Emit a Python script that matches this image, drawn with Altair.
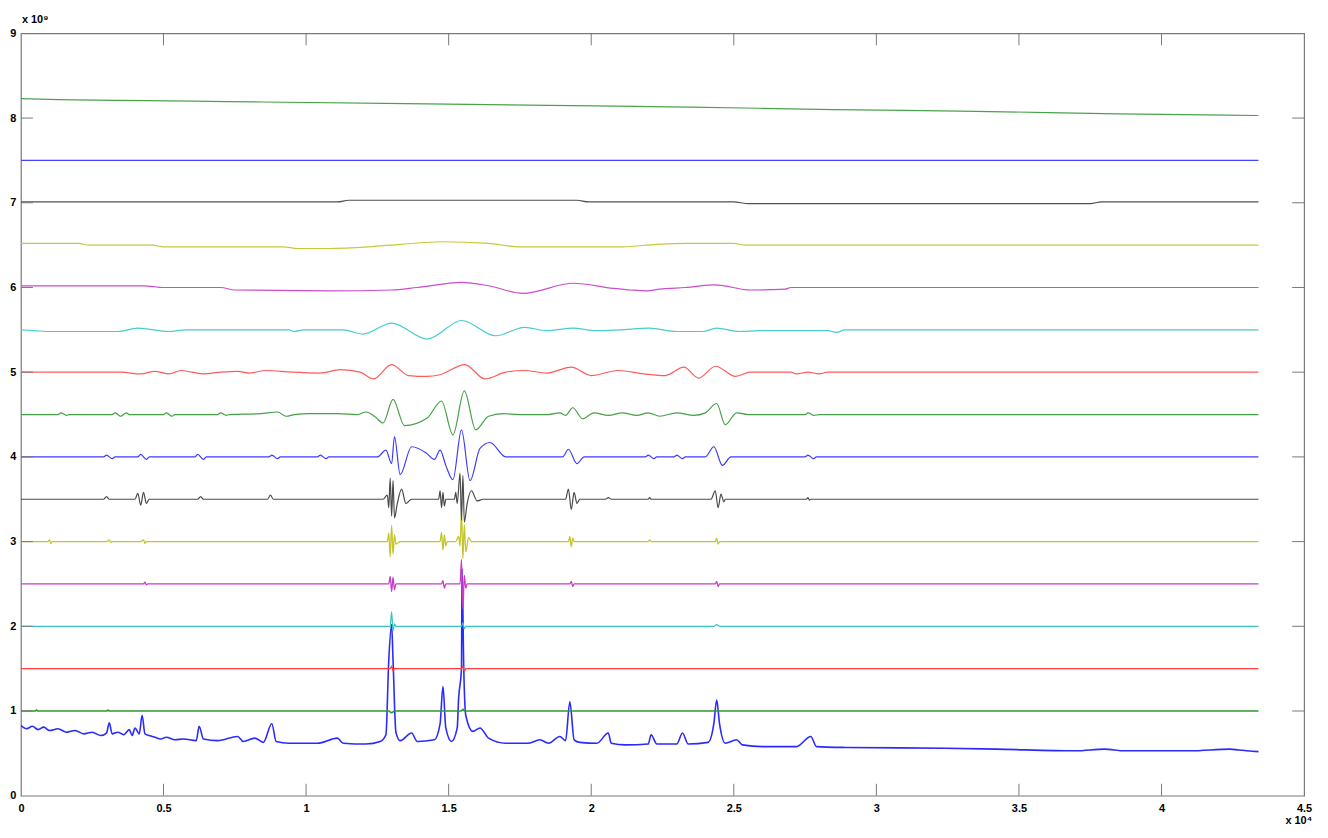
import altair as alt
import pandas as pd

# x in units of 1e4, y in units of 1e9
SIG_X = [0.00, 0.02, 0.04, 0.06, 0.08, 0.10, 0.13, 0.16, 0.19, 0.22, 0.25, 0.28, 0.30, 0.31, 0.32, 0.34, 0.36,
         0.38, 0.39, 0.40, 0.415, 0.425, 0.435, 0.45, 0.47, 0.49, 0.51, 0.54, 0.57, 0.615, 0.625, 0.64, 0.69,
         0.76, 0.78, 0.82, 0.85, 0.88, 0.895, 0.94, 1.04, 1.11, 1.13, 1.21, 1.26, 1.28, 1.29, 1.30, 1.305,
         1.315, 1.33, 1.37, 1.39, 1.45, 1.47, 1.48, 1.49, 1.51, 1.53, 1.535, 1.545, 1.547, 1.553, 1.56, 1.585,
         1.61, 1.64, 1.70, 1.78, 1.82, 1.85, 1.89, 1.91, 1.925, 1.94, 1.96, 2.02, 2.06, 2.07, 2.12, 2.20, 2.21,
         2.23, 2.30, 2.32, 2.34, 2.41, 2.43, 2.44, 2.45, 2.47, 2.51, 2.53, 2.60, 2.72, 2.77, 2.79, 2.89, 3.24,
         3.42, 3.70, 3.80, 3.87, 4.05, 4.10, 4.24, 4.27, 4.34]
SIG_Y = [0.83, 0.79, 0.82, 0.78, 0.81, 0.77, 0.79, 0.75, 0.77, 0.73, 0.75, 0.71, 0.74, 0.86, 0.73, 0.75, 0.72,
         0.78, 0.71, 0.80, 0.73, 0.95, 0.73, 0.71, 0.69, 0.67, 0.69, 0.66, 0.67, 0.65, 0.82, 0.67, 0.65,
         0.70, 0.64, 0.68, 0.63, 0.85, 0.64, 0.62, 0.62, 0.68, 0.62, 0.61, 0.64, 0.72, 1.60, 2.02, 1.60,
         0.75, 0.65, 0.74, 0.64, 0.66, 0.85, 1.29, 0.80, 0.64, 0.80, 1.15, 1.50, 2.68, 1.50, 0.95, 0.76,
         0.80, 0.68, 0.62, 0.62, 0.66, 0.62, 0.70, 0.65, 1.11, 0.66, 0.63, 0.62, 0.74, 0.62, 0.60, 0.61, 0.72,
         0.61, 0.61, 0.74, 0.61, 0.63, 0.85, 1.13, 0.85, 0.62, 0.66, 0.60, 0.58, 0.58, 0.70, 0.58, 0.57, 0.56,
         0.55, 0.53, 0.55, 0.53, 0.53, 0.53, 0.55, 0.54, 0.52]

G1_X = [0.00, 0.05, 0.055, 0.06, 0.30, 0.305, 0.31, 1.29, 1.30, 1.31, 1.545, 1.55, 1.555, 4.34]
G1_Y = [1.00, 1.00, 1.01, 1.00, 1.00, 1.01, 1.00, 1.00, 0.98, 1.00, 1.00, 1.02, 1.00, 1.00]

R1_X = [0.00, 1.295, 1.30, 1.305, 1.31, 1.545, 1.55, 1.555, 1.56, 4.34]
R1_Y = [1.50, 1.50, 1.53, 1.47, 1.50, 1.50, 1.53, 1.47, 1.50, 1.50]

C1_X = [0.00, 1.295, 1.30, 1.305, 1.31, 1.315, 1.545, 1.55, 1.555, 1.56, 2.43, 2.44, 2.45, 4.34]
C1_Y = [2.00, 2.00, 2.17, 1.95, 2.03, 2.00, 2.00, 2.04, 1.97, 2.00, 2.00, 2.02, 2.00, 2.00]

M1_X = [0.00, 0.43, 0.435, 0.44, 0.445, 1.29, 1.295, 1.30, 1.305, 1.31, 1.315, 1.475, 1.48, 1.485, 1.49,
        1.54, 1.545, 1.55, 1.555, 1.56, 1.565, 1.925, 1.93, 1.935, 1.94, 2.435, 2.44, 2.445, 2.45, 4.34]
M1_Y = [2.50, 2.50, 2.52, 2.49, 2.50, 2.50, 2.59, 2.41, 2.58, 2.43, 2.50, 2.50, 2.54, 2.45, 2.50,
        2.50, 2.79, 2.20, 2.60, 2.45, 2.50, 2.50, 2.53, 2.47, 2.50, 2.50, 2.53, 2.47, 2.50, 2.50]

Y1_X = [0.00, 0.095, 0.10, 0.105, 0.11, 0.30, 0.31, 0.315, 0.32, 0.42, 0.43, 0.435, 0.44, 1.285, 1.29,
        1.295, 1.30, 1.305, 1.31, 1.315, 1.33, 1.47, 1.475, 1.48, 1.485, 1.49, 1.495, 1.525, 1.535, 1.54,
        1.545, 1.55, 1.555, 1.56, 1.57, 1.58, 1.92, 1.925, 1.93, 1.935, 1.94, 2.20, 2.205, 2.21, 2.435,
        2.44, 2.445, 2.45, 4.34]
Y1_Y = [3.00, 3.00, 3.02, 2.98, 3.00, 3.00, 3.02, 2.99, 3.00, 3.00, 3.02, 2.98, 3.00, 3.00, 3.10,
        2.82, 3.19, 2.85, 3.08, 2.97, 3.00, 3.00, 3.11, 2.90, 3.08, 2.95, 3.00, 3.00, 3.06, 2.95,
        3.36, 2.80, 3.20, 2.88, 3.05, 3.00, 3.00, 3.06, 2.94, 3.04, 3.00, 3.00, 3.02, 3.00, 3.00,
        3.04, 2.97, 3.00, 3.00]

K1_X = [0.00, 0.29, 0.30, 0.31, 0.40, 0.41, 0.42, 0.43, 0.44, 0.45, 0.62, 0.63, 0.64, 0.865, 0.875, 0.885,
        1.27, 1.285, 1.29, 1.295, 1.30, 1.305, 1.31, 1.32, 1.335, 1.35, 1.37, 1.465, 1.47, 1.475, 1.48,
        1.485, 1.49, 1.52, 1.525, 1.53, 1.54, 1.545, 1.55, 1.555, 1.565, 1.58, 1.60, 1.62, 1.91, 1.92, 1.93,
        1.94, 1.95, 1.96, 2.05, 2.06, 2.07, 2.20, 2.205, 2.21, 2.42, 2.435, 2.445, 2.455, 2.465, 2.47, 2.755,
        2.76, 2.765, 2.77, 4.34]
K1_Y = [3.50, 3.50, 3.53, 3.50, 3.50, 3.57, 3.43, 3.58, 3.45, 3.50, 3.50, 3.53, 3.50, 3.50, 3.55, 3.50,
        3.50, 3.55, 3.40, 3.75, 3.30, 3.72, 3.28, 3.45, 3.62, 3.45, 3.50, 3.50, 3.60, 3.40, 3.58,
        3.42, 3.50, 3.50, 3.58, 3.45, 3.81, 3.25, 3.78, 3.23, 3.45, 3.60, 3.48, 3.50, 3.50, 3.62, 3.38,
        3.58, 3.45, 3.50, 3.50, 3.52, 3.50, 3.50, 3.52, 3.50, 3.50, 3.60, 3.40, 3.56, 3.47, 3.50, 3.50,
        3.52, 3.49, 3.50, 3.50]

B1_X = [0.00, 0.29, 0.30, 0.32, 0.33, 0.41, 0.42, 0.44, 0.45, 0.61, 0.62, 0.64, 0.65, 0.87, 0.88, 0.90,
        0.91, 1.04, 1.05, 1.07, 1.08, 1.25, 1.28, 1.30, 1.31, 1.33, 1.37, 1.42, 1.45, 1.47, 1.49, 1.515,
        1.545, 1.575, 1.61, 1.645, 1.70, 1.90, 1.92, 1.95, 1.975, 2.19, 2.20, 2.22, 2.23, 2.29, 2.30, 2.32,
        2.33, 2.40, 2.43, 2.46, 2.49, 2.75, 2.76, 2.78, 2.79, 4.34]
B1_Y = [4.00, 4.00, 4.02, 3.98, 4.00, 4.00, 4.03, 3.97, 4.00, 4.00, 4.03, 3.97, 4.00, 4.00, 4.02, 3.98,
        4.00, 4.00, 4.02, 3.98, 4.00, 4.00, 4.08, 3.92, 4.24, 3.79, 4.12, 4.05, 3.97, 4.08, 3.90, 3.73,
        4.32, 3.72, 4.10, 4.17, 4.00, 4.00, 4.09, 3.92, 4.00, 4.00, 4.02, 3.98, 4.00, 4.00, 4.02, 3.98,
        4.00, 4.00, 4.12, 3.90, 4.00, 4.00, 4.02, 3.98, 4.00, 4.00]

G2_X = [0.00, 0.13, 0.14, 0.16, 0.17, 0.32, 0.33, 0.35, 0.37, 0.38, 0.50, 0.51, 0.53, 0.54, 0.69, 0.70,
        0.72, 0.73, 0.84, 0.90, 0.93, 0.96, 1.01, 1.11, 1.18, 1.21, 1.24, 1.27, 1.305, 1.345, 1.425, 1.475,
        1.515, 1.555, 1.595, 1.64, 1.69, 1.75, 1.85, 1.89, 1.91, 1.935, 1.97, 2.01, 2.06, 2.11, 2.16, 2.20,
        2.24, 2.30, 2.36, 2.40, 2.44, 2.47, 2.51, 2.55, 2.75, 2.76, 2.78, 2.80, 4.34]
G2_Y = [4.50, 4.50, 4.52, 4.49, 4.50, 4.50, 4.52, 4.48, 4.52, 4.50, 4.50, 4.52, 4.48, 4.50, 4.50, 4.52,
        4.49, 4.50, 4.51, 4.53, 4.48, 4.50, 4.51, 4.51, 4.50, 4.53, 4.48, 4.40, 4.68, 4.37, 4.46, 4.66,
        4.26, 4.78, 4.32, 4.48, 4.51, 4.50, 4.50, 4.52, 4.49, 4.58, 4.45, 4.52, 4.49, 4.52, 4.49, 4.52,
        4.48, 4.52, 4.49, 4.52, 4.63, 4.38, 4.52, 4.50, 4.50, 4.52, 4.49, 4.50, 4.50]

R2_X = [0.00, 0.35, 0.42, 0.47, 0.52, 0.56, 0.60, 0.64, 0.70, 0.76, 0.80, 0.86, 0.95, 1.05, 1.12, 1.19,
        1.236, 1.30, 1.36, 1.424, 1.47, 1.557, 1.627, 1.70, 1.766, 1.843, 1.93, 2.00, 2.094, 2.185, 2.26,
        2.325, 2.377, 2.436, 2.506, 2.558, 2.70, 2.72, 2.76, 2.80, 2.83, 4.34]
R2_Y = [5.00, 5.00, 4.98, 5.01, 4.98, 5.02, 5.00, 4.98, 5.00, 5.01, 4.99, 5.02, 5.00, 4.99, 5.03, 5.00,
        4.92, 5.09, 4.96, 4.95, 4.97, 5.09, 4.92, 5.00, 5.02, 4.99, 5.06, 4.96, 5.02, 4.98, 4.96,
        5.06, 4.93, 5.07, 4.95, 5.00, 5.00, 4.98, 5.00, 4.98, 5.00, 5.00]

C2_X = [0.00, 0.05, 0.10, 0.34, 0.41, 0.52, 0.58, 0.94, 0.96, 0.99, 1.13, 1.20, 1.30, 1.425, 1.546, 1.665,
        1.767, 1.843, 1.937, 2.014, 2.10, 2.203, 2.30, 2.39, 2.44, 2.52, 2.59, 2.83, 2.86, 2.89, 4.34]
C2_Y = [5.50, 5.49, 5.48, 5.48, 5.52, 5.48, 5.50, 5.50, 5.48, 5.50, 5.50, 5.45, 5.58, 5.39, 5.61, 5.43,
        5.53, 5.49, 5.52, 5.49, 5.50, 5.52, 5.48, 5.48, 5.52, 5.48, 5.49, 5.49, 5.47, 5.50, 5.50]

M2_X = [0.00, 0.43, 0.50, 0.70, 0.75, 1.08, 1.30, 1.39, 1.546, 1.64, 1.76, 1.937, 2.077, 2.14, 2.195, 2.24,
        2.33, 2.436, 2.558, 2.68, 2.70, 4.34]
M2_Y = [6.02, 6.02, 6.00, 6.00, 5.97, 5.96, 5.97, 6.00, 6.06, 6.02, 5.93, 6.05, 5.99, 5.97, 5.96, 5.98,
        6.00, 6.03, 5.97, 5.98, 6.00, 6.00]

Y2_X = [0.00, 0.20, 0.24, 0.46, 0.50, 0.92, 0.97, 1.08, 1.22, 1.33, 1.48, 1.64, 1.75, 2.11, 2.23, 2.34,
        2.50, 2.54, 4.34]
Y2_Y = [6.52, 6.52, 6.50, 6.50, 6.48, 6.48, 6.46, 6.46, 6.48, 6.51, 6.54, 6.52, 6.48, 6.48, 6.51, 6.52,
        6.52, 6.50, 6.50]

K2_X = [0.00, 1.11, 1.15, 1.95, 1.99, 2.50, 2.55, 3.75, 3.79, 4.34]
K2_Y = [7.01, 7.01, 7.03, 7.03, 7.01, 7.01, 6.99, 6.99, 7.01, 7.01]

B2_X = [0.00, 4.34]
B2_Y = [7.50, 7.50]

G3_X = [0.00, 0.10, 0.35, 0.60, 0.85, 1.35, 1.85, 2.35, 2.85, 3.35, 3.85, 4.34]
G3_Y = [8.23, 8.22, 8.21, 8.20, 8.19, 8.17, 8.15, 8.13, 8.10, 8.08, 8.05, 8.03]

TRACE_NAMES = ["s", "a1", "d1", "d2", "d3", "d4", "d5", "d6", "d7", "d8", "d9", "d10", "d11", "d12",
               "d13", "d14"]
TRACE_COLORS = ["#2a2aff", "#2f962f", "#ff3a3a", "#38c4c4", "#c83cc8", "#c4c42c", "#4a4a4a", "#3c3cff",
                "#46a046", "#ff5a5a", "#48cccc", "#cc4ccc", "#c8c838", "#505050", "#4444ff", "#4aa24a"]
TRACE_WIDTHS = [1.6, 1.7, 1.3, 1.2, 1.3, 1.3, 1.2, 1.2, 1.2, 1.2, 1.2, 1.2, 1.2, 1.2, 1.2, 1.2]
TRACE_XS = [SIG_X, G1_X, R1_X, C1_X, M1_X, Y1_X, K1_X, B1_X, G2_X, R2_X, C2_X, M2_X, Y2_X, K2_X, B2_X, G3_X]
TRACE_YS = [SIG_Y, G1_Y, R1_Y, C1_Y, M1_Y, Y1_Y, K1_Y, B1_Y, G2_Y, R2_Y, C2_Y, M2_Y, Y2_Y, K2_Y, B2_Y, G3_Y]

X_TICKS = [0, 0.5, 1, 1.5, 2, 2.5, 3, 3.5, 4, 4.5]
Y_TICKS = [0, 1, 2, 3, 4, 5, 6, 7, 8, 9]

rows = []
for name, w, xs, ys in zip(TRACE_NAMES, TRACE_WIDTHS, TRACE_XS, TRACE_YS):
    for i, (xv, yv) in enumerate(zip(xs, ys)):
        rows.append({"trace": name, "idx": i, "x": xv, "y": yv, "w": w})
df = pd.DataFrame(rows)

W, H = 1291, 767
xscale = alt.Scale(domain=[0, 4.5], nice=False, zero=False)
yscale = alt.Scale(domain=[0, 9], nice=False, zero=False)
FONT = "Liberation Sans"

lines = alt.Chart(df).mark_line(strokeJoin="round", clip=True, interpolate="monotone").encode(
    x=alt.X("x:Q", scale=xscale,
            axis=alt.Axis(values=X_TICKS, title=None, grid=False, ticks=False, domain=False,
                          labelFont=FONT, labelFontSize=11, labelFontWeight="bold", labelColor="#000000",
                          labelPadding=7, labelFlush=False,
                          labelExpr="format(datum.value, '.2~f')")),
    y=alt.Y("y:Q", scale=yscale,
            axis=alt.Axis(values=Y_TICKS, title=None, grid=False, ticks=False, domain=False,
                          labelFont=FONT, labelFontSize=11, labelFontWeight="bold", labelColor="#000000",
                          labelPadding=5, labelFlush=False,
                          labelExpr="format(datum.value, 'd')")),
    color=alt.Color("trace:N", scale=alt.Scale(domain=TRACE_NAMES, range=TRACE_COLORS), legend=None),
    strokeWidth=alt.StrokeWidth("w:Q", scale=None),
    order=alt.Order("idx:Q"),
)

xt = pd.DataFrame({"t": X_TICKS[1:-1]})
yt = pd.DataFrame({"t": Y_TICKS[1:-1]})
TICK_COLOR = "#7a7a7a"
TL = 12
xt_bottom = alt.Chart(xt).mark_rule(color=TICK_COLOR, strokeWidth=1).encode(
    x=alt.X("t:Q", scale=xscale), y=alt.value(H), y2=alt.value(H - TL))
xt_top = alt.Chart(xt).mark_rule(color=TICK_COLOR, strokeWidth=1).encode(
    x=alt.X("t:Q", scale=xscale), y=alt.value(0), y2=alt.value(TL))
yt_left = alt.Chart(yt).mark_rule(color=TICK_COLOR, strokeWidth=1).encode(
    y=alt.Y("t:Q", scale=yscale), x=alt.value(0), x2=alt.value(TL))
yt_right = alt.Chart(yt).mark_rule(color=TICK_COLOR, strokeWidth=1).encode(
    y=alt.Y("t:Q", scale=yscale), x=alt.value(W), x2=alt.value(W - TL))

EXP_LABELS = ["x 10\u2079", "x 10\u2074"]
exp_y = alt.Chart(pd.DataFrame({"label": [EXP_LABELS[0]]})).mark_text(
    font=FONT, fontSize=11, fontWeight="bold", align="left", baseline="middle", color="#000000").encode(
    x=alt.value(1), y=alt.value(-13), text="label:N")
exp_x = alt.Chart(pd.DataFrame({"label": [EXP_LABELS[1]]})).mark_text(
    font=FONT, fontSize=11, fontWeight="bold", align="right", baseline="middle", color="#000000").encode(
    x=alt.value(W + 8), y=alt.value(792), text="label:N")

chart = alt.layer(lines, xt_bottom, xt_top, yt_left, yt_right, exp_y, exp_x).properties(
    width=W, height=H,
    autosize=alt.AutoSizeParams(type="none"),
    padding={"left": 13, "top": 23, "right": 16, "bottom": 36},
    background="#ffffff",
).configure_view(stroke="#7a7a7a", strokeWidth=1.2)

chart.save("out.html", embed_options={"renderer": "svg", "actions": False})
